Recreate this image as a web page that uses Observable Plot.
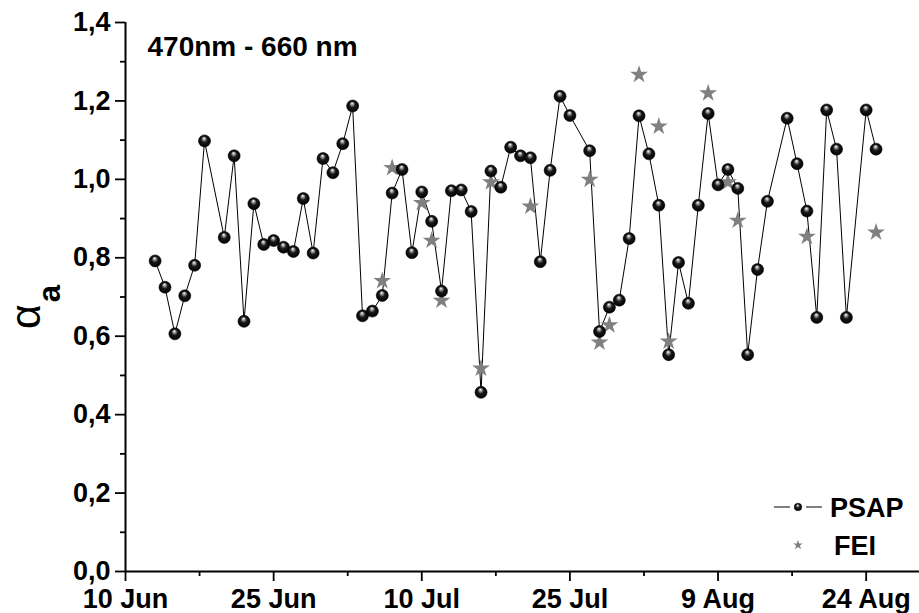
<!DOCTYPE html>
<html>
<head>
<meta charset="utf-8">
<script src="https://cdn.jsdelivr.net/npm/d3@7"></script>
<script src="https://cdn.jsdelivr.net/npm/@observablehq/plot@0.6"></script>
<style>
  html, body { margin: 0; padding: 0; background: #fff; }
</style>
</head>
<body>
<div id="chart"></div>
<script>
// PSAP (470-660 nm absorption Angstrom exponent)
const psapDates = [
  "2008-06-13","2008-06-14","2008-06-15","2008-06-16","2008-06-17","2008-06-18",
  "2008-06-20","2008-06-21","2008-06-22","2008-06-23","2008-06-24","2008-06-25",
  "2008-06-26","2008-06-27","2008-06-28","2008-06-29","2008-06-30","2008-07-01",
  "2008-07-02","2008-07-03","2008-07-04","2008-07-05","2008-07-06","2008-07-07",
  "2008-07-08","2008-07-09","2008-07-10","2008-07-11","2008-07-12","2008-07-13",
  "2008-07-14","2008-07-15","2008-07-16","2008-07-17","2008-07-18","2008-07-19",
  "2008-07-20","2008-07-21","2008-07-22","2008-07-23","2008-07-24","2008-07-25",
  "2008-07-27","2008-07-28","2008-07-29","2008-07-30","2008-07-31","2008-08-01",
  "2008-08-02","2008-08-03","2008-08-04","2008-08-05","2008-08-06","2008-08-07",
  "2008-08-08","2008-08-09","2008-08-10","2008-08-11","2008-08-12","2008-08-13",
  "2008-08-14","2008-08-16","2008-08-17","2008-08-18","2008-08-19","2008-08-20",
  "2008-08-21","2008-08-22","2008-08-24","2008-08-25"
];
const psapValues = [
  0.792,0.725,0.606,0.703,0.781,1.098,
  0.852,1.060,0.638,0.938,0.834,0.844,
  0.827,0.816,0.951,0.812,1.053,1.017,
  1.091,1.187,0.652,0.664,0.704,0.965,
  1.025,0.813,0.968,0.893,0.715,0.971,
  0.973,0.918,0.457,1.021,0.980,1.082,
  1.060,1.055,0.790,1.023,1.212,1.163,
  1.073,0.612,0.674,0.692,0.849,1.162,
  1.065,0.934,0.553,0.788,0.684,0.934,
  1.168,0.986,1.025,0.977,0.553,0.770,
  0.944,1.156,1.040,0.919,0.648,1.177,
  1.077,0.648,1.177,1.077
];
// FEI
const feiDates = [
  "2008-07-06","2008-07-07","2008-07-10","2008-07-11","2008-07-12","2008-07-16",
  "2008-07-17","2008-07-21","2008-07-27","2008-07-28","2008-07-29","2008-08-01",
  "2008-08-03","2008-08-04","2008-08-08","2008-08-10","2008-08-11","2008-08-18",
  "2008-08-25"
];
const feiValues = [
  0.741,1.029,0.940,0.844,0.691,0.518,
  0.993,0.931,0.999,0.584,0.628,1.267,
  1.135,0.587,1.220,0.993,0.895,0.854,
  0.865
];
// axes
const xMajorTicks = ["2008-06-10","2008-06-25","2008-07-10","2008-07-25","2008-08-09","2008-08-24"];
const yMajorTicks = [0,0.2,0.4,0.6,0.8,1.0,1.2,1.4];
const yMinorTicks = [0.1,0.3,0.5,0.7,0.9,1.1,1.3];
const xStart = "2008-06-10";
const xEnd = "2008-08-29T09:36";
const titleText = "470nm - 660 nm";
const seriesNames = ["PSAP","FEI"];

const parse = s => new Date(s + (s.includes("T") ? "Z" : "T00:00Z"));
const psap = psapDates.map((d,i) => ({date: parse(d), v: psapValues[i]}));
const fei = feiDates.map((d,i) => ({date: parse(d), v: feiValues[i]}));
const xMaj = xMajorTicks.map(parse);
const xMin = xMaj.map(d => new Date(+d + 7.5*864e5)).filter(d => d < parse(xEnd));
const fmtDate = d3.utcFormat("%-d %b");
const fmtNum = d => d.toFixed(1).replace(".", ",");

const W = 919, H = 613, mL = 125, mR = 0, mT = 22, mB = 42;
const FONT = "'Liberation Sans', Arial, Helvetica, sans-serif";

const plot = Plot.plot({
  width: W, height: H,
  marginLeft: mL, marginRight: mR, marginTop: mT, marginBottom: mB,
  style: {fontFamily: FONT, fontSize: "27px", fontWeight: "bold", color: "#000", background: "#fff", overflow: "visible"},
  x: {type: "utc", domain: [parse(xStart), parse(xEnd)]},
  y: {domain: [0, 1.4]},
  marks: [
    Plot.axisY(yMajorTicks, {tickSize: 10, tickPadding: 5, tickFormat: fmtNum, strokeWidth: 1.8, label: null, fontSize: 27, fontWeight: "bold"}),
    Plot.axisY(yMinorTicks, {tickSize: 5, tickFormat: () => "", strokeWidth: 1.8, label: null}),
    Plot.axisX(xMaj, {tickSize: 10, tickPadding: 7, tickFormat: fmtDate, strokeWidth: 1.8, label: null, fontSize: 27, fontWeight: "bold"}),
    Plot.axisX(xMin, {tickSize: 5, tickFormat: () => "", strokeWidth: 1.8, label: null}),
    Plot.ruleY([0], {stroke: "#000", strokeWidth: 2}),
    Plot.ruleX([parse(xStart)], {stroke: "#000", strokeWidth: 2}),
    Plot.line(psap, {x: "date", y: "v", stroke: "#000", strokeWidth: 1}),
    Plot.dot(fei, {x: "date", y: "v", symbol: "star", r: 5.6, fill: "#808080", stroke: "none"}),
    Plot.dot(psap, {x: "date", y: "v", r: 6, fill: "url(#ball)", stroke: "#000", strokeWidth: 0.6}),
    Plot.text([titleText], {frameAnchor: "top-left", dx: 22, dy: 14, textAnchor: "start", lineAnchor: "top", fontSize: 28, fontWeight: "bold"})
  ]
});

const svg = d3.select(plot);
const defs = svg.insert("defs", ":first-child");
const g = defs.append("radialGradient").attr("id", "ball")
  .attr("cx", "50%").attr("cy", "50%").attr("r", "50%").attr("fx", "45%").attr("fy", "25%");
g.append("stop").attr("offset", "0%").attr("stop-color", "#ffffff");
g.append("stop").attr("offset", "20%").attr("stop-color", "#a8a8a8");
g.append("stop").attr("offset", "50%").attr("stop-color", "#1a1a1a");
g.append("stop").attr("offset", "100%").attr("stop-color", "#000000");

// y-axis label alpha_a
const lab = svg.append("text")
  .attr("transform", "translate(40,329) rotate(-90)")
  .attr("text-anchor", "start")
  .attr("font-family", FONT).attr("font-weight", "normal").attr("fill", "#000");
lab.append("tspan").attr("font-size", 43).text("α");
lab.append("tspan").attr("font-size", 31).attr("font-weight", "bold").attr("dx", 2).attr("dy", 20).text("a");

// legend
const lg = svg.append("g").attr("font-family", FONT).attr("font-weight", "bold").attr("font-size", 27).attr("text-anchor", "start");
const ly1 = 507, ly2 = 545, lx = 798;
lg.append("line").attr("x1", lx - 24).attr("x2", lx - 8).attr("y1", ly1).attr("y2", ly1).attr("stroke", "#000").attr("stroke-width", 1);
lg.append("line").attr("x1", lx + 8).attr("x2", lx + 24).attr("y1", ly1).attr("y2", ly1).attr("stroke", "#000").attr("stroke-width", 1);
lg.append("circle").attr("cx", lx).attr("cy", ly1).attr("r", 3.8).attr("fill", "url(#ball)").attr("stroke", "#000").attr("stroke-width", 0.5);
lg.append("path").attr("d", d3.symbol(d3.symbolStar, 30)()).attr("transform", `translate(${lx},${ly2})`).attr("fill", "#808080");
lg.append("text").attr("x", 830).attr("y", ly1).attr("dy", "0.36em").text(seriesNames[0]);
lg.append("text").attr("x", 834).attr("y", ly2).attr("dy", "0.36em").text(seriesNames[1]);

document.getElementById("chart").appendChild(plot);
</script>
</body>
</html>
